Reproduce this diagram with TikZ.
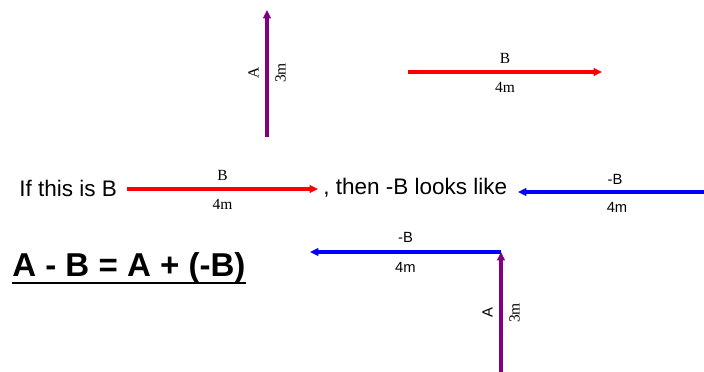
\documentclass[tikz,border=0pt]{standalone}
\usepackage{fontspec}
\setmainfont{Liberation Serif}
\newfontfamily\arialfont{Liberation Sans}
\usetikzlibrary{arrows.meta, positioning}
\definecolor{vecA}{HTML}{800080}
\definecolor{vecB}{HTML}{FF0000}
\definecolor{negB}{HTML}{0000FF}

\begin{document}
\begin{tikzpicture}[
  x=0.025cm, y=-0.025cm,
  >={Triangle[length=6pt,width=5.5pt]},
  vec/.style={->, line width=2.2pt},
  serif label/.style={font=\fontsize{11}{13}\selectfont, inner sep=0pt, text=black},
  sans label/.style={font=\arialfont\fontsize{10.5}{12}\selectfont, inner sep=0pt, text=black},
  words/.style={font=\arialfont\fontsize{16}{19}\selectfont, inner sep=0pt}
]
  \useasboundingbox (0,0) rectangle (704,372);

  % vector A on its own
  \coordinate (a1tail) at (267,137);
  \coordinate (a1head) at (267,10);
  \draw[vec, vecA] (a1tail) -- (a1head);
  \node[serif label, rotate=90, anchor=south] (a1name) at (259,73) {A};
  \node[serif label, rotate=90, anchor=north] (a1len) at (275,73) {3m};

  % vector B on its own
  \coordinate (b1tail) at (408,72);
  \coordinate (b1head) at (602,72);
  \draw[vec, vecB] (b1tail) -- node[serif label, above=5pt] (b1name) {B}
    node[serif label, below=6pt] (b1len) {4m} (b1head);

  % the sentence
  \node[words, anchor=west] (ifthis) at (19,188) {If this is B};
  \coordinate (b2tail) at (127,189);
  \coordinate (b2head) at (318,189);
  \draw[vec, vecB] (b2tail) -- node[serif label, above=5pt] (b2name) {B}
    node[serif label, below=6pt] (b2len) {4m} (b2head);
  \node[words, anchor=west] (thenb) at (323,188) {, then -B looks like};
  \coordinate (nb1tail) at (706,192);
  \coordinate (nb1head) at (518,192);
  \draw[vec, negB] (nb1tail) -- (nb1head);
  \node[sans label] (nb1name) at (615,179) {-B};
  \node[sans label] (nb1len) at (617,207) {4m};

  % A - B
  \node[font=\arialfont\bfseries\fontsize{23.5}{28}\selectfont, inner sep=0pt,
    anchor=base west] (eqn) at (12,277) {A - B = A + (-B)};
  \draw[line width=1.5pt] ([yshift=-4pt]eqn.base west) -- ([yshift=-4pt]eqn.base east);

  % tip to tail
  \coordinate (a2tail) at (501,372);
  \coordinate (a2head) at (501,252);
  \draw[vec, vecA] (a2tail) -- (a2head);
  \coordinate (nb2head) at (310,252);
  \draw[vec, negB] (a2head) -- node[sans label, above=6pt] (nb2name) {-B}
    node[sans label, below=6pt] (nb2len) {4m} (nb2head);
  \node[sans label, rotate=90, anchor=south] (a2name) at (493,313) {A};
  \node[serif label, rotate=90, anchor=north] (a2len) at (509,313) {3m};
\end{tikzpicture}
\end{document}
